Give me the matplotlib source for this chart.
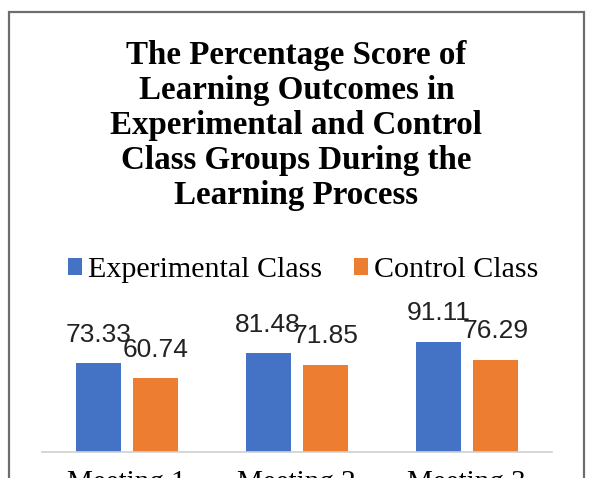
import numpy as np
import matplotlib
matplotlib.use('Agg')
import matplotlib.pyplot as plt
from matplotlib.patches import Rectangle

# Datos del grafico
categories = ['Meeting 1', 'Meeting 2', 'Meeting 3']
experimental = [73.33, 81.48, 91.11]
control = [60.74, 71.85, 76.29]
series_names = ['Experimental Class', 'Control Class']
title = ('The Percentage Score of\nLearning Outcomes in\nExperimental and Control\n'
         'Class Groups During the\nLearning Process')

blue = '#4472C4'
orange = '#ED7D31'
serif = 'Liberation Serif'

fig = plt.figure(figsize=(5.9, 4.78), dpi=100)

# Marco del grafico
fig.patches.append(Rectangle((9 / 590, -0.1), 575 / 590, 466 / 478 + 0.1,
                             transform=fig.transFigure, fill=False,
                             edgecolor='#6e6e6e', lw=1.6, clip_on=False))

# Titulo
fig.text(0.5025, 1 - 40 / 478, title, ha='center', va='top', fontsize=23.8,
         fontweight='bold', family=serif, linespacing=1.17)

ax = fig.add_axes([41.7 / 590, 26.3 / 478, 510 / 590, 120.7 / 478])

x = np.arange(len(categories))
w = 0.265
off = 0.1676
b1 = ax.bar(x - off, experimental, w, color=blue, label=series_names[0])
b2 = ax.bar(x + off, control, w, color=orange, label=series_names[1])

for bars, vals in ((b1, experimental), (b2, control)):
    for rect, v in zip(bars, vals):
        ax.annotate(f'{v:.2f}', (rect.get_x() + rect.get_width() / 2, v),
                    xytext=(0, 15.5), textcoords='offset points',
                    ha='center', va='baseline', fontsize=19,
                    family='Liberation Sans', color='#222222')

ax.set_xlim(-0.5, 2.5)
ax.set_ylim(0, 100)
ax.set_yticks([])
ax.set_xticks(x)
ax.set_xticklabels(categories, family=serif, fontsize=21)
ax.tick_params(axis='x', length=0, pad=13)
for s in ['top', 'left', 'right']:
    ax.spines[s].set_visible(False)
ax.spines['bottom'].set_color('#d0d0d0')
ax.spines['bottom'].set_linewidth(1.2)
ax.patch.set_alpha(0)

leg = fig.legend(handles=[b1, b2], loc='center', bbox_to_anchor=(303 / 590, 1 - 270 / 478),
                 ncol=2, frameon=False, prop={'family': serif, 'size': 21.6},
                 handlelength=0.47, handleheight=0.47, handletextpad=0.2,
                 columnspacing=1.05, borderaxespad=0)

fig.savefig('out.png', dpi=100)
